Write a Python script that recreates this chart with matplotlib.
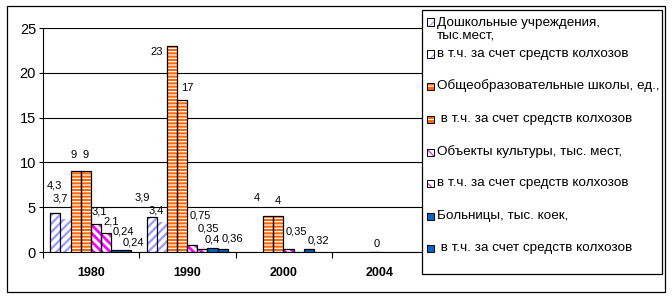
import numpy as np
import matplotlib
matplotlib.use("Agg")
import matplotlib.pyplot as plt
from matplotlib.patches import Rectangle

plt.rcParams['font.family'] = ['Liberation Sans', 'DejaVu Sans']

# ---------------- data ----------------
years = ['1980', '1990', '2000', '2004']
series_names = [
    'Дошкольные учреждения,\nтыс.мест,',
    'в т.ч. за счет средств колхозов',
    'Общеобразовательные школы, ед.,',
    ' в т.ч. за счет средств колхозов',
    'Объекты культуры, тыс. мест,',
    'в т.ч. за счет средств колхозов',
    'Больницы, тыс. коек,',
    ' в т.ч. за счет средств колхозов',
]
nan = np.nan
preschool      = [4.3, 3.9, nan, nan]
preschool_kolh = [3.7, 3.4, nan, nan]
schools        = [9, 23, 4, nan]
schools_kolh   = [9, 17, 4, 0]
culture        = [3.1, 0.75, 0.35, nan]
culture_kolh   = [2.1, 0.35, nan, nan]
hospitals      = [0.24, 0.4, 0.32, nan]
hospitals_kolh = [0.24, 0.36, nan, nan]
values = [preschool, preschool_kolh, schools, schools_kolh,
          culture, culture_kolh, hospitals, hospitals_kolh]
yticks = [0, 5, 10, 15, 20, 25]

# ---------------- styles ----------------
LAV, ORG, MAG, BLU = '#9999FF', '#FF6600', '#FF00FF', '#0066CC'
styles = [
    dict(face='white', hcol=LAV, hatch='////', hlw=1.6, edge='black'),
    dict(face='white', hcol=LAV, hatch='////', hlw=1.6, edge=None),
    dict(face=ORG, hcol='white', hatch='-----', hlw=0.9, edge='black'),
    dict(face=ORG, hcol='white', hatch='-----', hlw=0.9, edge='black'),
    dict(face='white', hcol=MAG, hatch='\\\\\\\\', hlw=2.0, edge='black'),
    dict(face='white', hcol=MAG, hatch='\\\\\\\\', hlw=2.0, edge='black'),
    dict(face=BLU, hcol=BLU, hatch=None, hlw=1.0, edge='black'),
    dict(face=BLU, hcol=BLU, hatch=None, hlw=1.0, edge='black'),
]
# label offsets in pixels (dx, dy) per series per category
label_off = [
    [(-1, 28), (-9, 20), None, None],
    [(-5, 20), (-6, 11), None, None],
    [(-2, 16), (-15, -6), (-11, 18), None],
    [(0, 16), (5, 12), (-1, 15), (2, 8)],
    [(3, 13), (8, 30), (8, 17), None],
    [(5, 12), (6, 20), None, None],
    [(7, 18), (0, 9), (10, 9), None],
    [(7, 7), (10, 10), None, None],
]

W, H = 672, 298
fig = plt.figure(figsize=(W / 100, H / 100), dpi=100)
fig.patch.set_facecolor('white')

def fx(px):
    return px / W

def fy(py):
    return 1 - py / H

ax = fig.add_axes([fx(43), fy(252), (428 - 43) / W, (252 - 28) / H])
ax.set_xlim(-0.5, 3.5)
ax.set_ylim(0, 25)

n = len(values)
w = 0.1053
x = np.arange(len(years))
for i, (vals, st) in enumerate(zip(values, styles)):
    pos = x - 0.5 + 0.0764 + i * w + w / 2
    v = np.array(vals, dtype=float)
    with plt.rc_context({'hatch.linewidth': st['hlw']}):
        ax.bar(pos, v, width=w, color=st['face'], edgecolor=st['hcol'],
               hatch=st['hatch'], linewidth=0, zorder=3)
    if st['edge']:
        ax.bar(pos, v, width=w, fill=False, edgecolor=st['edge'],
               linewidth=0.9, zorder=4)
    for j in range(len(years)):
        if np.isnan(v[j]) or label_off[i][j] is None:
            continue
        dx, dy = label_off[i][j]
        ax.annotate(f"{v[j]:g}".replace('.', ','), (pos[j], v[j]),
                    xytext=(dx, dy), textcoords='offset pixels',
                    ha='center', va='center', fontsize=8, zorder=5)

ax.set_yticks(yticks)
ax.set_yticklabels([str(t) for t in yticks], fontsize=10.5)
ax.yaxis.grid(True, color='black', linewidth=0.8, zorder=0)
ax.set_axisbelow(True)
ax.tick_params(axis='y', direction='out', length=3, width=0.8, pad=2)

ax.set_xticks(np.arange(-0.5, 4.0, 1.0))
ax.set_xticklabels([])
ax.set_xticks(x, minor=True)
ax.set_xticklabels(years, minor=True, fontsize=9, fontweight='bold')
ax.tick_params(axis='x', which='major', direction='out', length=4, width=0.8)
ax.tick_params(axis='x', which='minor', length=0, pad=11)

for s in ['top', 'right']:
    ax.spines[s].set_visible(False)
for s in ['left', 'bottom']:
    ax.spines[s].set_linewidth(0.8)

# outer border
fig.add_artist(Rectangle((fx(7), fy(292)), (665 - 7) / W, (292 - 6) / H,
                         transform=fig.transFigure, fill=False,
                         edgecolor='black', linewidth=0.9, zorder=1))

# legend box
fig.add_artist(Rectangle((fx(422), fy(274)), (662 - 422) / W, (274 - 10) / H,
                         transform=fig.transFigure, facecolor='white',
                         edgecolor='black', linewidth=0.9, zorder=2))
row_y = [29.5, 54, 86, 119, 152, 183, 216, 248]
for i, (name, st) in enumerate(zip(series_names, styles)):
    yc = row_y[i]
    my = 22 if i == 0 else yc
    with plt.rc_context({'hatch.linewidth': 0.8}):
        fig.add_artist(Rectangle((fx(427), fy(my + 3.5)), 7 / W, 7 / H,
                                 transform=fig.transFigure,
                                 facecolor=st['face'], edgecolor=st['hcol'],
                                 hatch=('///' if st['hatch'] and '/' in st['hatch'] else
                                        '\\\\\\' if st['hatch'] and '\\' in st['hatch'] else
                                        '---' if st['hatch'] else None),
                                 linewidth=0, zorder=3))
    fig.add_artist(Rectangle((fx(427), fy(my + 3.5)), 7 / W, 7 / H,
                             transform=fig.transFigure, fill=False,
                             edgecolor='black', linewidth=0.7, zorder=4))
    fig.text(fx(437), fy(yc), name, ha='left', va='center', fontsize=9.7,
             linespacing=1.1, zorder=5)

fig.savefig('out.png', dpi=100)
